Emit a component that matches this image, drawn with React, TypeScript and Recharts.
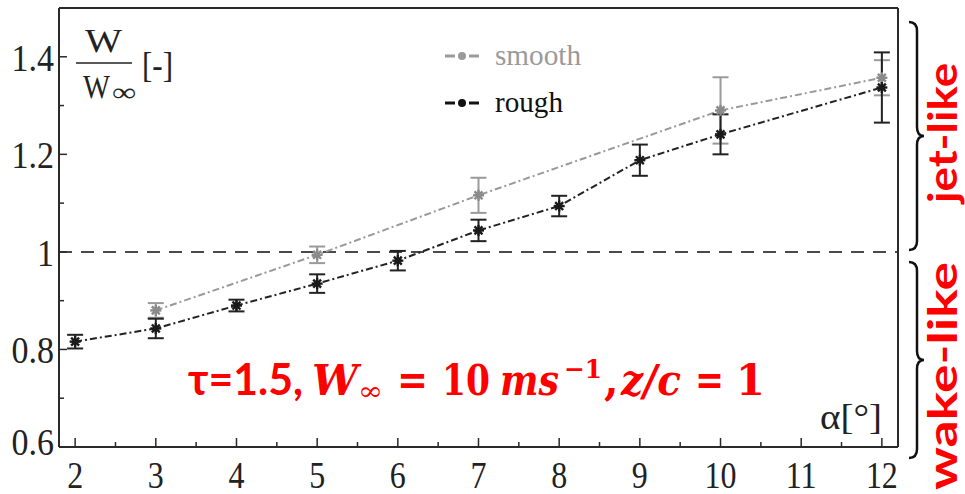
import React from 'react';
import { LineChart, Line, XAxis, YAxis, ErrorBar, ReferenceLine } from 'recharts';

// angle of attack [deg] and normalised velocity W/W_inf
const roughAlpha = [2, 3, 4, 5, 6, 7, 8, 9, 10, 12];
const roughValues = [0.816, 0.843, 0.89, 0.935, 0.982, 1.044, 1.094, 1.188, 1.241, 1.337];
const roughErrors = [0.014, 0.02, 0.012, 0.019, 0.02, 0.022, 0.021, 0.032, 0.041, 0.072];

const smoothAlpha = [3, 5, 7, 10, 12];
const smoothValues = [0.88, 0.994, 1.116, 1.29, 1.357];
const smoothErrors = [0.015, 0.017, 0.036, 0.068, 0.036];

const xTicks = [2, 2.5, 3, 3.5, 4, 4.5, 5, 5.5, 6, 6.5, 7, 7.5, 8, 8.5, 9, 9.5, 10, 10.5, 11, 11.5, 12];
const xLabels = [2, 3, 4, 5, 6, 7, 8, 9, 10, 11, 12];
const yTicks = [0.6, 0.7, 0.8, 0.9, 1, 1.1, 1.2, 1.3, 1.4];
const yLabels = [0.6, 0.8, 1, 1.2, 1.4];

const roughData = roughAlpha.map((a, i) => ({ alpha: a, value: roughValues[i], err: roughErrors[i] }));
const smoothData = smoothAlpha.map((a, i) => ({ alpha: a, value: smoothValues[i], err: smoothErrors[i] }));

const SERIF = "'Liberation Serif', 'Times New Roman', Times, serif";
const MATH = "'DejaVu Serif', serif";
const SANS = "Lato, 'Open Sans', sans-serif";
const AXIS = '#2a2a2a';
const SMOOTH = '#9a9a9a';
const ROUGH = '#222';
const RED = '#ff0000';

const starDot = (color: string) => (props: any) => {
  const { cx, cy, index } = props;
  if (cx == null || cy == null) return <g key={index} />;
  const r = 5.5;
  const d = r * 0.72;
  return (
    <g key={index} stroke={color} strokeWidth={2.4}>
      <line x1={cx - r} y1={cy} x2={cx + r} y2={cy} />
      <line x1={cx} y1={cy - r} x2={cx} y2={cy + r} />
      <line x1={cx - d} y1={cy - d} x2={cx + d} y2={cy + d} />
      <line x1={cx - d} y1={cy + d} x2={cx + d} y2={cy - d} />
      <circle cx={cx} cy={cy} r={3} fill={color} stroke="none" />
    </g>
  );
};

const BottomTick = (props: any) => {
  const { x, y, payload } = props;
  const major = xLabels.includes(payload.value);
  return (
    <g>
      <line x1={x} x2={x} y1={y} y2={y - (major ? 9 : 5)} stroke={AXIS} strokeWidth={1.5} />
      {major && (
        <text
          transform={`translate(${x},${y + 41}) scale(1,1.2)`}
          textAnchor="middle"
          fontSize={32}
          style={{ fontFamily: SERIF }}
          fill="#222"
        >
          {payload.value}
        </text>
      )}
    </g>
  );
};

const TopTick = (props: any) => {
  const { x, y, payload } = props;
  const major = xLabels.includes(payload.value);
  return <line x1={x} x2={x} y1={y} y2={y + (major ? 10 : 6)} stroke={AXIS} strokeWidth={1.5} />;
};

const LeftTick = (props: any) => {
  const { x, y, payload } = props;
  const v = payload.value;
  const major = yLabels.includes(v);
  return (
    <g>
      <line x1={x} x2={x + (major ? 8 : 5)} y1={y} y2={y} stroke={AXIS} strokeWidth={1.5} />
      {major && (
        <text
          transform={`translate(${x - 5},${y + (v === 0.6 ? 8 : 14)}) scale(1,1.1)`}
          textAnchor="end"
          fontSize={34}
          style={{ fontFamily: SERIF }}
          fill="#222"
        >
          {String(v)}
        </text>
      )}
    </g>
  );
};

const RightTick = (props: any) => {
  const { x, y } = props;
  return <line x1={x} x2={x - 6} y1={y} y2={y} stroke={AXIS} strokeWidth={1.5} />;
};

const brace = (x0: number, x1: number, x2: number, yTop: number, yBot: number) => {
  const ym = (yTop + yBot) / 2;
  const r = 9;
  return `M${x0},${yTop} Q${x1},${yTop} ${x1},${yTop + r} L${x1},${ym - r} Q${x1},${ym} ${x2},${ym} Q${x1},${ym} ${x1},${ym + r} L${x1},${yBot - r} Q${x1},${yBot} ${x0},${yBot}`;
};

function Overlay() {
  const fit = { lengthAdjust: 'spacingAndGlyphs' } as const;
  const serif = { fontFamily: SERIF };
  const math = { fontFamily: MATH };
  const sans = { fontFamily: SANS };
  return (
    <svg width={965} height={494} style={{ position: 'absolute', left: 0, top: 0, pointerEvents: 'none' }}>
      {/* y-axis quantity */}
      <text x={85} y={52} fontSize={34} style={serif} fill="#222" textLength={37} {...fit}>W</text>
      <line x1={76} x2={132} y1={63} y2={63} stroke="#222" strokeWidth={1.5} />
      <text x={83} y={98} fontSize={34} style={serif} fill="#222" textLength={27} {...fit}>W</text>
      <text x={112} y={101} fontSize={26} style={serif} fill="#222" textLength={24} {...fit}>∞</text>
      <text x={142} y={77} fontSize={36} style={serif} fill="#222" textLength={31} {...fit}>[-]</text>

      {/* legend */}
      <line x1={445} x2={455} y1={56} y2={56} stroke={SMOOTH} strokeWidth={3} />
      <circle cx={462} cy={56} r={4} fill={SMOOTH} />
      <line x1={469} x2={479} y1={56} y2={56} stroke={SMOOTH} strokeWidth={3} />
      <text x={495} y={65} fontSize={30} style={serif} fill={SMOOTH} textLength={86} {...fit}>smooth</text>
      <line x1={445} x2={455} y1={103} y2={103} stroke="#111" strokeWidth={3} />
      <circle cx={462} cy={103} r={4} fill="#111" />
      <line x1={469} x2={479} y1={103} y2={103} stroke="#111" strokeWidth={3} />
      <text x={495} y={112} fontSize={30} style={serif} fill="#111" textLength={68} {...fit}>rough</text>

      {/* x-axis quantity */}
      <text x={820} y={429} fontSize={36} style={serif} fill="#222" textLength={62} {...fit}>α[°]</text>

      {/* red annotation */}
      <text x={188} y={395} fontSize={44} style={sans} fontWeight={700} fill={RED} textLength={115} {...fit}>τ=1.5,</text>
      <text x={312} y={395} fontSize={42} style={math} fontWeight={700} fontStyle="italic" fill={RED} textLength={46} {...fit}>W</text>
      <text x={358} y={400} fontSize={26} style={math} fill={RED} textLength={25} {...fit}>∞</text>
      <text x={397} y={394} fontSize={42} style={math} fontWeight={700} fill={RED} textLength={31} {...fit}>=</text>
      <text x={442} y={395} fontSize={42} style={math} fontWeight={700} fill={RED} textLength={48} {...fit}>10</text>
      <text x={500} y={395} fontSize={42} style={math} fontWeight={700} fontStyle="italic" fill={RED} textLength={59} {...fit}>ms</text>
      <text x={564} y={378} fontSize={26} style={math} fontWeight={700} fill={RED} textLength={38} {...fit}>−1</text>
      <text x={604} y={395} fontSize={42} style={math} fontWeight={700} fill={RED}>,</text>
      <text x={621} y={395} fontSize={42} style={math} fontWeight={700} fontStyle="italic" fill={RED} textLength={60} {...fit}>z/c</text>
      <text x={695} y={394} fontSize={42} style={math} fontWeight={700} fill={RED} textLength={29} {...fit}>=</text>
      <text x={736} y={395} fontSize={42} style={math} fontWeight={700} fill={RED} textLength={29} {...fit}>1</text>

      {/* regime braces */}
      <path d={brace(909, 917, 924, 22, 250)} fill="none" stroke="#111" strokeWidth={2.5} />
      <path d={brace(909, 917, 924, 262, 458)} fill="none" stroke="#111" strokeWidth={2.5} />
      <text transform="translate(957,203) rotate(-90)" fontSize={41} style={sans} fontWeight={700} fill={RED} textLength={140} {...fit}>jet-like</text>
      <text transform="translate(957,490) rotate(-90)" fontSize={41} style={sans} fontWeight={700} fill={RED} textLength={228} {...fit}>wake-like</text>
    </svg>
  );
}

export default function App() {
  const axisLine = { stroke: AXIS, strokeWidth: 2 };
  return (
    <div style={{ position: 'absolute', left: 0, top: 0, width: 965, height: 494, background: '#fff' }}>
      <LineChart width={965} height={494} margin={{ top: 7, right: 66, bottom: 46, left: 58 }}>
        <XAxis
          xAxisId={0}
          type="number"
          dataKey="alpha"
          domain={[1.8, 12.2]}
          ticks={xTicks}
          interval={0}
          height={1}
          tickSize={0}
          tickMargin={0}
          tickLine={false}
          axisLine={axisLine}
          tick={BottomTick}
        />
        <XAxis
          xAxisId="top"
          orientation="top"
          type="number"
          dataKey="alpha"
          domain={[1.8, 12.2]}
          ticks={xTicks}
          interval={0}
          height={1}
          tickSize={0}
          tickMargin={0}
          tickLine={false}
          axisLine={axisLine}
          tick={TopTick}
        />
        <YAxis
          yAxisId={0}
          type="number"
          domain={[0.6, 1.5]}
          ticks={yTicks}
          interval={0}
          width={1}
          tickSize={0}
          tickMargin={0}
          tickLine={false}
          axisLine={axisLine}
          tick={LeftTick}
        />
        <YAxis
          yAxisId="right"
          orientation="right"
          type="number"
          domain={[0.6, 1.5]}
          ticks={yTicks}
          interval={0}
          width={1}
          tickSize={0}
          tickMargin={0}
          tickLine={false}
          axisLine={axisLine}
          tick={RightTick}
        />
        <ReferenceLine y={1} stroke="#4a4a4a" strokeWidth={2} strokeDasharray="13 9" />
        <Line
          data={smoothData}
          dataKey="value"
          stroke={SMOOTH}
          strokeWidth={2}
          strokeDasharray="7 3 2 3"
          dot={starDot('#8a8a8a')}
          isAnimationActive={false}
        >
          <ErrorBar dataKey="err" width={8} stroke={SMOOTH} strokeWidth={2} direction="y" />
        </Line>
        <Line
          data={roughData}
          dataKey="value"
          stroke={ROUGH}
          strokeWidth={2}
          strokeDasharray="7 3 2 3"
          dot={starDot('#1a1a1a')}
          isAnimationActive={false}
        >
          <ErrorBar dataKey="err" width={8} stroke={ROUGH} strokeWidth={2} direction="y" />
        </Line>
      </LineChart>
      <Overlay />
    </div>
  );
}
